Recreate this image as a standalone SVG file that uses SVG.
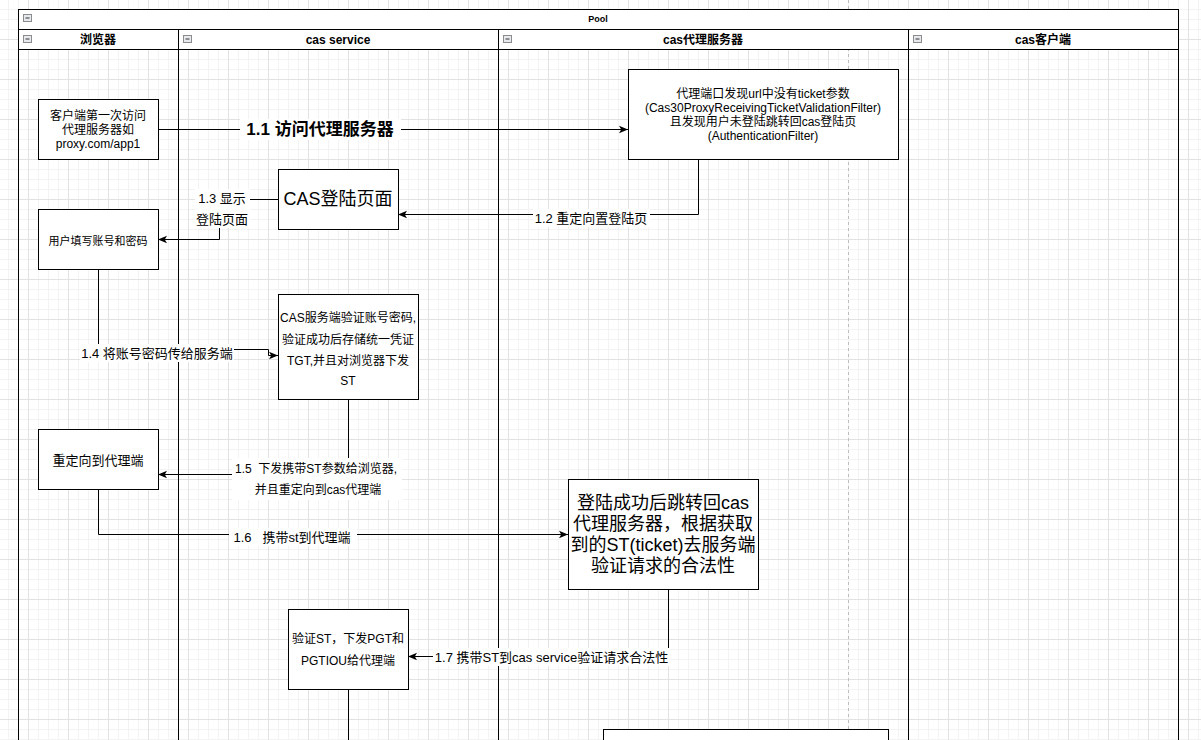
<svg xmlns="http://www.w3.org/2000/svg" width="1201" height="740" viewBox="0 0 1201 740">
<style>
text{font-family:"Liberation Sans","Noto Sans CJK SC",sans-serif;fill:#000;text-anchor:middle}
.box{fill:#fff;stroke:#000;stroke-width:1}
.hdr{fill:#fff;stroke:#000;stroke-width:1}
.lane{stroke:#000;stroke-width:1;fill:none}
.conn{fill:none;stroke:#000;stroke-width:1}
.lbg{fill:#fff}
.ico{fill:#e6e9ee;stroke:#8c8c8c;stroke-width:1}
.icm{stroke:#333;stroke-width:1}
.t12{font-size:12px}
.t13{font-size:13px}
.t11{font-size:11px}
.t18{font-size:18px}
.th{font-size:12px;font-weight:bold}
</style>
<defs>
<pattern id="grid" x="28" y="39" width="40" height="40" patternUnits="userSpaceOnUse">
<path d="M10.5 0V40M20.5 0V40M30.5 0V40M0 10.5H40M0 20.5H40M0 30.5H40" stroke="#f3f3f3" stroke-width="1" fill="none"/>
<path d="M0.5 0V40M0 0.5H40" stroke="#e2e2e2" stroke-width="1" fill="none"/>
</pattern>
<marker id="arr" markerUnits="userSpaceOnUse" markerWidth="9" markerHeight="9" viewBox="0 0 9 9" refX="9" refY="4.5" orient="auto">
<path d="M0,0.8 L9,4.5 L0,8.2 L2.2,4.5 Z" fill="#000"/>
</marker>
</defs>
<rect width="1201" height="740" fill="#fff"/>
<rect width="1201" height="740" fill="url(#grid)"/>
<line x1="848.5" y1="0" x2="848.5" y2="740" stroke="#bdbdbd" stroke-width="1" stroke-dasharray="3,3"/>

<g id="pool">
<rect class="hdr" x="18.5" y="9.5" width="1160" height="20"/>
<rect class="hdr" x="18.5" y="29.5" width="160" height="20"/>
<rect class="hdr" x="178.5" y="29.5" width="320" height="20"/>
<rect class="hdr" x="498.5" y="29.5" width="410" height="20"/>
<rect class="hdr" x="908.5" y="29.5" width="270" height="20"/>
<path class="lane" d="M18.5 49V740M178.5 49V740M498.5 49V740M908.5 49V740M1178.5 49V740"/>
<text x="598" y="22" style="font-size:9px;font-weight:bold">Pool</text>
<text class="th" x="98" y="44">浏览器</text>
<text class="th" x="338" y="44">cas service</text>
<text class="th" x="703" y="44">cas代理服务器</text>
<text class="th" x="1043" y="44">cas客户端</text>
<g id="icons">
<rect class="ico" x="23.5" y="14.5" width="8" height="7"/><path class="icm" d="M25.5 18H29.5"/>
<rect class="ico" x="23.5" y="35.5" width="8" height="7"/><path class="icm" d="M25.5 39H29.5"/>
<rect class="ico" x="183.5" y="35.5" width="8" height="7"/><path class="icm" d="M185.5 39H189.5"/>
<rect class="ico" x="503.5" y="35.5" width="8" height="7"/><path class="icm" d="M505.5 39H509.5"/>
<rect class="ico" x="913.5" y="35.5" width="8" height="7"/><path class="icm" d="M915.5 39H919.5"/>
</g>
</g>

<g id="connectors">
<path class="conn" d="M158 129.5H628" marker-end="url(#arr)"/>
<path class="conn" d="M698.5 159V214.5H398" marker-end="url(#arr)"/>
<path class="conn" d="M278 199.5H219.5V239.5H158" marker-end="url(#arr)"/>
<path class="conn" d="M98.5 269V349.5H268.5V355.5H278" marker-end="url(#arr)"/>
<path class="conn" d="M348.5 399V474.5H158" marker-end="url(#arr)"/>
<path class="conn" d="M98.5 489V534.5H568" marker-end="url(#arr)"/>
<path class="conn" d="M668.5 589V656.5H408" marker-end="url(#arr)"/>
<path class="conn" d="M348.5 689V740"/>
<g id="labels">
<rect class="lbg" x="240" y="119" width="161" height="21"/>
<text x="320" y="135" style="font-size:17px;font-weight:bold">1.1 访问代理服务器</text>
<rect class="lbg" x="533" y="209" width="117" height="18"/>
<text class="t13" x="591" y="222.5">1.2 重定向置登陆页</text>
<rect class="lbg" x="195" y="189" width="55" height="39"/>
<text class="t13" x="222" y="202.5">1.3 显示</text>
<text class="t13" x="222" y="223.5">登陆页面</text>
<rect class="lbg" x="80" y="344" width="154" height="18"/>
<text class="t13" x="157" y="357.5">1.4 将账号密码传给服务端</text>
<rect class="lbg" x="232" y="458" width="170" height="42"/>
<text class="t12" x="316" y="473" xml:space="preserve">1.5  下发携带ST参数给浏览器,</text>
<text class="t12" x="318" y="494">并且重定向到cas代理端</text>
<rect class="lbg" x="229" y="528" width="128" height="18"/>
<text class="t13" x="292" y="541.5" xml:space="preserve">1.6   携带st到代理端</text>
<rect class="lbg" x="433" y="648" width="237" height="18"/>
<text class="t13" x="551.5" y="661.5">1.7 携带ST到cas service验证请求合法性</text>
</g>
</g>

<g id="n1">
<rect class="box" x="38.5" y="99.5" width="120" height="60"/>
<text class="t12" x="98" y="120">客户端第一次访问</text>
<text class="t12" x="98" y="134">代理服务器如</text>
<text class="t12" x="98" y="148">proxy.com/app1</text>
</g>
<g id="n2">
<rect class="box" x="628.5" y="69.5" width="270" height="90"/>
<text class="t12" x="763" y="97.5">代理端口发现url中没有ticket参数</text>
<text class="t12" x="763" y="111.5">(Cas30ProxyReceivingTicketValidationFilter)</text>
<text class="t12" x="763" y="125.5">且发现用户未登陆跳转回cas登陆页</text>
<text class="t12" x="763" y="139.5">(AuthenticationFilter)</text>
</g>
<g id="n3">
<rect class="box" x="278.5" y="169.5" width="120" height="60"/>
<text class="t18" x="338" y="205">CAS登陆页面</text>
</g>
<g id="n4">
<rect class="box" x="38.5" y="209.5" width="120" height="60"/>
<text class="t11" x="98" y="245">用户填写账号和密码</text>
</g>
<g id="n5">
<rect class="box" x="278.5" y="294.5" width="140" height="105"/>
<text class="t12" x="348" y="322">CAS服务端验证账号密码,</text>
<text class="t12" x="348" y="344">验证成功后存储统一凭证</text>
<text class="t12" x="348" y="365">TGT,并且对浏览器下发</text>
<text class="t12" x="348" y="385">ST</text>
</g>
<g id="n6">
<rect class="box" x="38.5" y="429.5" width="120" height="60"/>
<text class="t13" x="98" y="465">重定向到代理端</text>
</g>
<g id="n7">
<rect class="box" x="568.5" y="479.5" width="190" height="110"/>
<text class="t18" x="663" y="509">登陆成功后跳转回cas</text>
<text class="t18" x="663" y="530">代理服务器，根据获取</text>
<text class="t18" x="663" y="551">到的ST(ticket)去服务端</text>
<text class="t18" x="663" y="572">验证请求的合法性</text>
</g>
<g id="n8">
<rect class="box" x="288.5" y="609.5" width="120" height="80"/>
<text class="t12" x="348" y="643">验证ST，下发PGT和</text>
<text class="t12" x="348" y="665">PGTIOU给代理端</text>
</g>
<g id="n9">
<rect class="box" x="603.5" y="729.5" width="285" height="30"/>
</g>
</svg>
